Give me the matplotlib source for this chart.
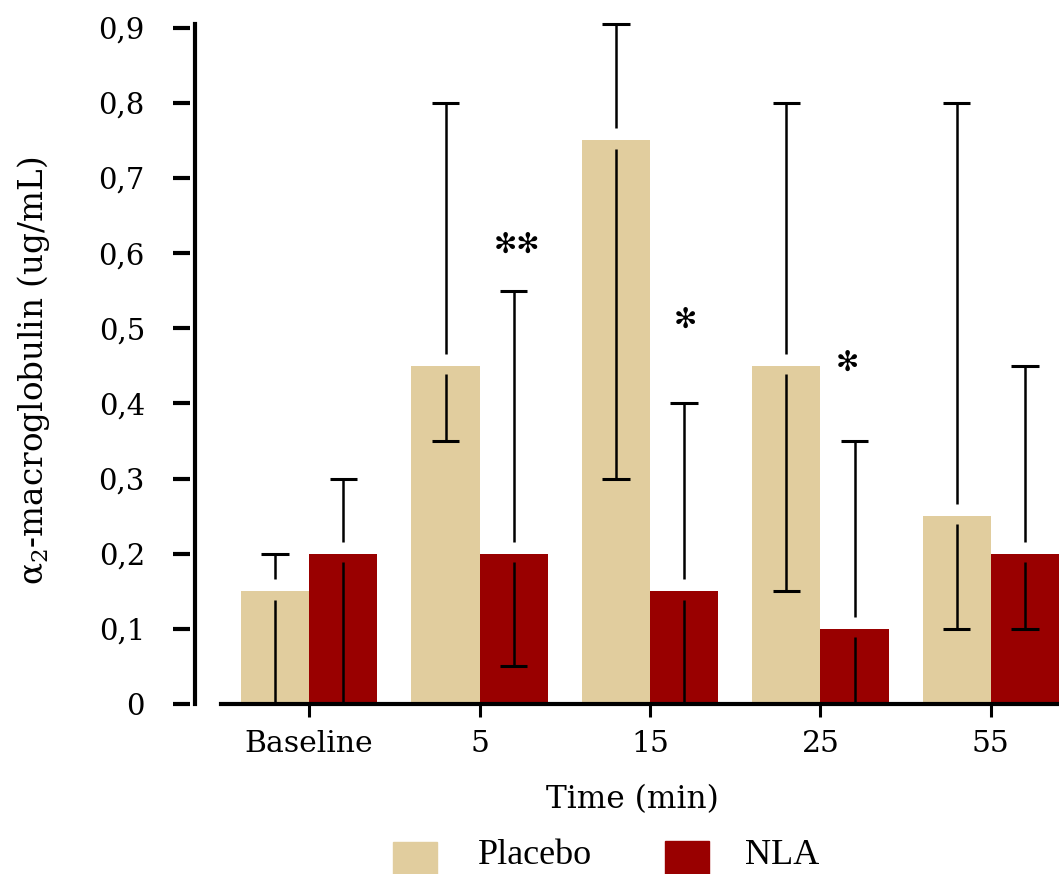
import numpy as np
import matplotlib
matplotlib.use("Agg")
import matplotlib.pyplot as plt
from matplotlib.patches import Rectangle
from matplotlib.transforms import blended_transform_factory

plt.rcParams['font.family'] = ['DejaVu Serif', 'DejaVu Sans']

# alpha2-macroglobulin, mean with low / high error limits
times = ["Baseline", "5", "15", "25", "55"]
placebo = [0.15, 0.45, 0.75, 0.45, 0.25]
placebo_lo = [0.0, 0.35, 0.30, 0.15, 0.10]
placebo_hi = [0.20, 0.80, 0.905, 0.80, 0.80]
nla = [0.20, 0.20, 0.15, 0.10, 0.20]
nla_lo = [0.0, 0.05, 0.0, 0.0, 0.10]
nla_hi = [0.30, 0.55, 0.40, 0.35, 0.45]
stars = ["", "✻✻", "✻", "✻", ""]
star_y = [0, 0.611, 0.511, 0.454, 0]
star_dx = [0, 0.22, 0.21, 0.16, 0]

c_placebo = "#e1cd9e"
c_nla = "#990000"

fig = plt.figure(figsize=(10.59, 8.74), dpi=100)
ax = fig.add_axes([195/1059, 170/874, 864/1059, 680/874])

x = np.arange(len(times))
w = 0.4
ax.bar(x - w/2, placebo, w, color=c_placebo, zorder=1)
ax.bar(x + w/2, nla, w, color=c_nla, zorder=1)

# error bars with a small break around the bar top
def errbars(xs, mean, lo, hi):
    for xi, m, l, h in zip(xs, mean, lo, hi):
        ax.vlines(xi, m + 0.016, h, color="black", lw=1.8, zorder=3, clip_on=False)
        ax.vlines(xi, l, m - 0.011, color="black", lw=1.8, zorder=3)
        ax.hlines(h, xi - 0.08, xi + 0.08, color="black", lw=2.2, zorder=3, clip_on=False)
        if l > 0:
            ax.hlines(l, xi - 0.08, xi + 0.08, color="black", lw=2.2, zorder=3)

errbars(x - w/2, placebo, placebo_lo, placebo_hi)
errbars(x + w/2, nla, nla_lo, nla_hi)

for xi, s, sy, dx in zip(x, stars, star_y, star_dx):
    if s:
        ax.text(xi + dx, sy, s, ha="center", va="center", fontsize=20,
                family="DejaVu Sans")

ax.set_xlim(-0.67, 4.4)
ax.set_ylim(0, 0.905)

ax.spines["top"].set_visible(False)
ax.spines["right"].set_visible(False)
ax.spines["left"].set_linewidth(3)
ax.spines["bottom"].set_linewidth(3)
ax.spines["bottom"].set_bounds(-0.52, 4.4)
ax.spines["bottom"].set_zorder(4)

yt = np.arange(0, 0.91, 0.1)
ax.set_yticks(yt)
ax.set_yticklabels(["0"] + ["0,%d" % i for i in range(1, 10)])
ax.tick_params(axis="y", length=0, pad=36, labelsize=21)
trans = blended_transform_factory(ax.transAxes, ax.transData)
for v in yt:
    ax.plot([-0.0255, -0.006], [v, v], color="black", lw=3, transform=trans,
            clip_on=False, solid_capstyle="butt")

ax.set_xticks(x)
ax.set_xticklabels(times)
ax.tick_params(axis="x", length=9.5, width=2.2, pad=9, labelsize=21.5)
ax.set_xlabel("Time (min)", fontsize=22.5)
ax.xaxis.set_label_coords(0.506, -0.117)
ax.set_ylabel(r"$\mathregular{\alpha_2}$-macroglobulin (ug/mL)", fontsize=23.5)
ax.yaxis.set_label_coords(-0.166, 0.49)

# legend along the bottom edge
fig.add_artist(Rectangle((393/1059, 0), 44/1059, 32/874, color=c_placebo,
                         transform=fig.transFigure))
fig.add_artist(Rectangle((665/1059, 0), 44/1059, 33/874, color=c_nla,
                         transform=fig.transFigure))
fig.text(478/1059, 18/874, "Placebo", fontsize=26, va="center",
         family="Liberation Serif")
fig.text(745/1059, 18/874, "NLA", fontsize=26, va="center",
         family="Liberation Serif")

fig.savefig("out.png", dpi=100)
